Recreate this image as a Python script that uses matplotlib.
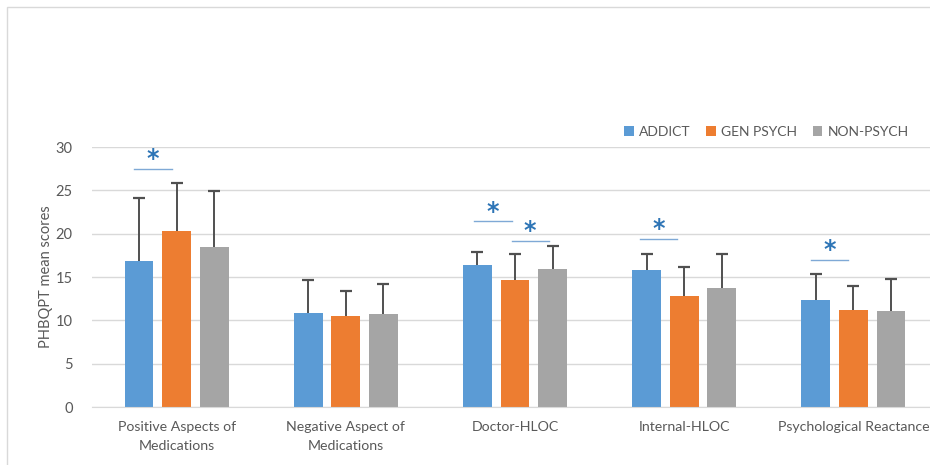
import numpy as np
import matplotlib.pyplot as plt
from matplotlib.patches import Rectangle

# данные
categories = ["Positive Aspects of\nMedications", "Negative Aspect of\nMedications",
              "Doctor-HLOC", "Internal-HLOC", "Psychological Reactance"]
groups = ["ADDICT", "GEN PSYCH", "NON-PSYCH"]
addict_mean = [16.85, 10.85, 16.4, 15.8, 12.4]
addict_sd = [7.3, 3.8, 1.5, 1.9, 2.95]
genpsych_mean = [20.3, 10.45, 14.7, 12.85, 11.25]
genpsych_sd = [5.5, 2.9, 3.0, 3.35, 2.7]
nonpsych_mean = [18.5, 10.7, 15.9, 13.7, 11.05]
nonpsych_sd = [6.4, 3.55, 2.7, 3.9, 3.7]

# значимые различия: (категория, левая граница, правая граница, высота линии)
sig_marks = [(0, -0.25, -0.03, 27.5),
             (2, -0.24, -0.02, 21.45),
             (2, -0.02, 0.20, 19.2),
             (3, -0.26, -0.04, 19.4),
             (4, -0.25, -0.03, 17.0)]

colors = ["#5B9BD5", "#ED7D31", "#A5A5A5"]
plt.rcParams['font.family'] = ['Lato', 'DejaVu Sans']

fig = plt.figure(figsize=(9.3, 4.65), dpi=100)
fig.patches.append(Rectangle((7 / 930, -0.1), 1.2, 1 - 7 / 465 + 0.1,
                             transform=fig.transFigure, fill=False,
                             edgecolor="#d9d9d9", linewidth=1))
ax = fig.add_axes([92 / 930, 1 - 407 / 465, 846 / 930, 260 / 465])

x = np.arange(len(categories))
width = 0.17
step = 0.222
means = [addict_mean, genpsych_mean, nonpsych_mean]
sds = [addict_sd, genpsych_sd, nonpsych_sd]
for i, (m, s) in enumerate(zip(means, sds)):
    pos = x + (i - 1) * step
    ax.bar(pos, m, width, color=colors[i], label=groups[i], zorder=2)
    eb = ax.errorbar(pos, m, yerr=[np.zeros(len(s)), s], fmt="none",
                     ecolor="#505050", elinewidth=1.4, capsize=4, capthick=1.6, zorder=3)
    # только верхний ус, как в Excel
    eb[1][0].set_visible(False)

for cat, x0, x1, h in sig_marks:
    ax.plot([cat + x0, cat + x1], [h, h], color="#7fa9d6", linewidth=1, zorder=3)
    ax.text(cat + (x0 + x1) / 2, h - 0.3, "*", ha="center", va="bottom",
            fontsize=17, fontweight="bold", color="#2E75B6", family="DejaVu Sans")

ax.set_xlim(-0.5, len(categories) - 0.5)
ax.set_ylim(0, 30)
ax.set_yticks(range(0, 31, 5))
ax.set_xticks(x)
ax.set_xticklabels(categories, fontsize=10.2, color="#595959", linespacing=1.75)
ax.tick_params(axis="y", labelsize=10.5, labelcolor="#595959", length=0, pad=14)
ax.tick_params(axis="x", length=0, pad=10)
ax.grid(axis="y", color="#d9d9d9", linewidth=1, zorder=0)
for side in ["top", "right", "left"]:
    ax.spines[side].set_visible(False)
ax.spines["bottom"].set_color("#d9d9d9")
ax.set_axisbelow(True)
ax.set_ylabel("PHBQPT mean scores", fontsize=10.5, color="#595959", labelpad=2)

ax.legend(loc="lower left", bbox_to_anchor=(624 / 930, 1 - 138 / 465),
          bbox_transform=fig.transFigure, ncol=3, frameon=False, fontsize=10,
          labelcolor="#595959", handlelength=0.7, handleheight=0.7,
          handletextpad=0.4, columnspacing=1.1, borderaxespad=0, borderpad=0)

fig.savefig("out.png", dpi=100)
